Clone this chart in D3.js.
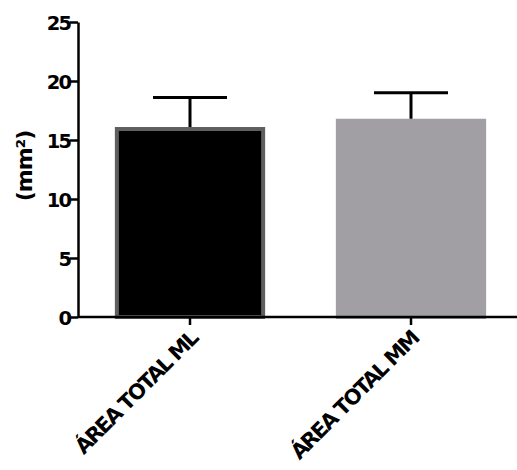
<!DOCTYPE html>
<html>
<head>
<meta charset="utf-8">
<script src="https://cdn.jsdelivr.net/npm/d3@7"></script>
<style>
  body { margin: 0; background: #fff; }
  svg text { font-family: "DejaVu Sans", sans-serif; font-weight: bold; fill: #000; }
</style>
</head>
<body>
<svg></svg>
<script>
// Data
const categories = ["ÁREA TOTAL ML", "ÁREA TOTAL MM"];
const means = [16.1, 16.8];
const errors = [2.5, 2.2];
const fills = ["#000000", "#a19fa4"];
const strokes = ["#5f5f5f", "#a19fa4"];
const yTicks = [0, 5, 10, 15, 20, 25];

const width = 517;
const height = 470;

const svg = d3.select("svg").attr("width", width).attr("height", height);

const bars = categories.map((c, i) => ({ cat: c, mean: means[i], err: errors[i], fill: fills[i], stroke: strokes[i] }));

// Scales
const xScale = d3.scaleBand()
  .domain(categories)
  .range([79.5, 521.5])
  .paddingInner(0.32)
  .paddingOuter(0.16);

const yScale = d3.scaleLinear().domain([0, 25]).range([317, 22]);

// Bars
svg.selectAll("rect.bar")
  .data(bars)
  .enter()
  .append("rect")
  .attr("class", "bar")
  .attr("x", d => xScale(d.cat) + 2)
  .attr("y", d => yScale(d.mean) + 2)
  .attr("width", xScale.bandwidth() - 4)
  .attr("height", d => yScale(0) - yScale(d.mean) - 2)
  .attr("fill", d => d.fill)
  .attr("stroke", d => d.stroke)
  .attr("stroke-width", 4);

// Error bars (upper only)
const eb = svg.selectAll("g.err")
  .data(bars)
  .enter()
  .append("g")
  .attr("class", "err")
  .attr("stroke", "#000")
  .attr("stroke-width", 3);

eb.append("line")
  .attr("x1", d => xScale(d.cat) + xScale.bandwidth() / 2)
  .attr("x2", d => xScale(d.cat) + xScale.bandwidth() / 2)
  .attr("y1", d => yScale(d.mean))
  .attr("y2", d => yScale(d.mean + d.err));

eb.append("line")
  .attr("x1", d => xScale(d.cat) + xScale.bandwidth() / 2 - 37)
  .attr("x2", d => xScale(d.cat) + xScale.bandwidth() / 2 + 37)
  .attr("y1", d => yScale(d.mean + d.err))
  .attr("y2", d => yScale(d.mean + d.err));

// Axes
const yAxisG = svg.append("g")
  .attr("transform", "translate(78,0)")
  .call(d3.axisLeft(yScale).tickValues(yTicks).tickSize(8).tickSizeOuter(0).tickPadding(0));

yAxisG.selectAll("path, line").attr("stroke", "#000").attr("stroke-width", 2.5);
yAxisG.selectAll("text")
  .style("font-size", "19.5px")
  .attr("letter-spacing", "-2")
  .attr("dy", "0.36em");

const xAxisG = svg.append("g")
  .attr("transform", `translate(0,${yScale(0)})`)
  .call(d3.axisBottom(xScale).tickSize(8).tickSizeOuter(0));

xAxisG.select(".domain").attr("d", "M78,0H517");
xAxisG.selectAll("path, line").attr("stroke", "#000").attr("stroke-width", 2.5);
xAxisG.selectAll("text")
  .style("font-size", "21px")
  .attr("letter-spacing", "-1.8")
  .attr("text-anchor", "end")
  .attr("x", 0)
  .attr("y", 0)
  .attr("dy", 0)
  .attr("transform", "translate(9,23) rotate(-45)");

// Y axis title
svg.append("text")
  .attr("transform", "translate(32,166) rotate(-90)")
  .attr("text-anchor", "middle")
  .style("font-size", "22px")
  .attr("letter-spacing", "-1")
  .text("(mm²)");
</script>
</body>
</html>
